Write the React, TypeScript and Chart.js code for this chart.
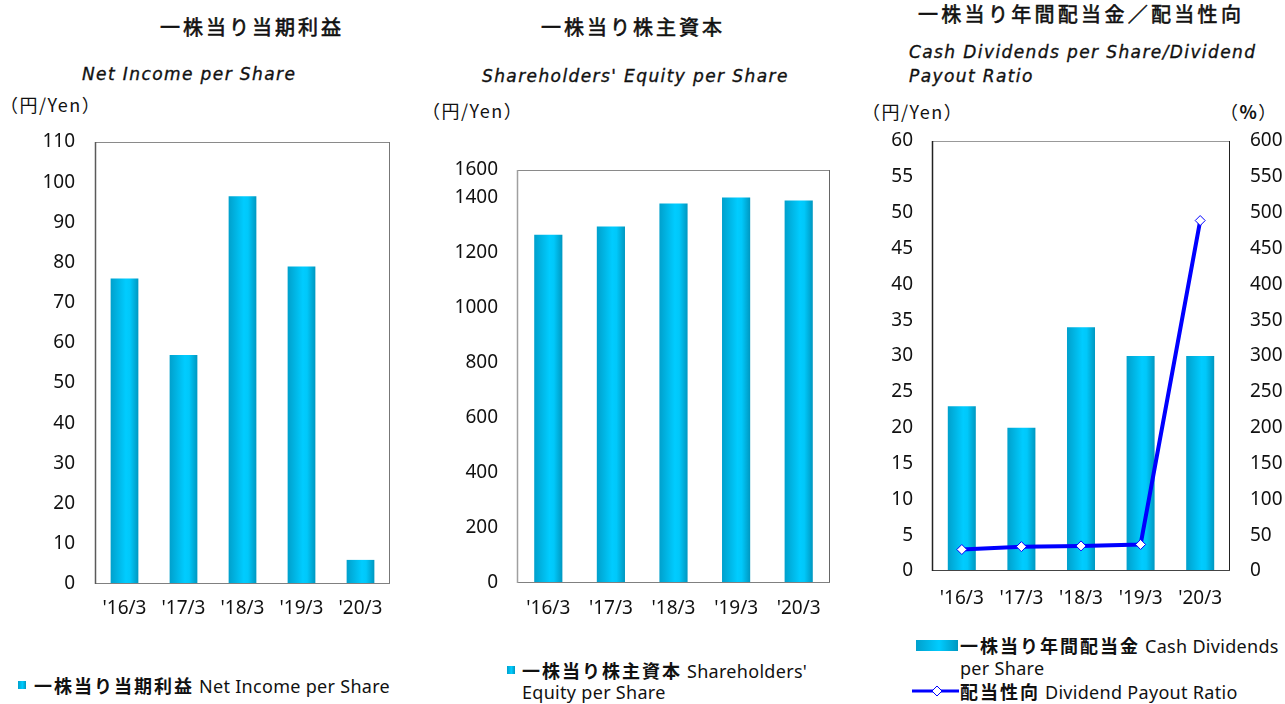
import React, { useEffect, useRef } from 'react';
import { Chart, registerables } from 'chart.js';

Chart.register(...registerables);

// ---------- data ----------
const categories = ["'16/3", "'17/3", "'18/3", "'19/3", "'20/3"];
const netIncomePerShare = [76, 57, 96.5, 79, 6];
const equityPerShare = [1265, 1295, 1378, 1400, 1389];
const dividendsPerShare = [23, 20, 34, 30, 30];
const payoutRatio = [30, 34, 35, 37, 489];

const netIncomeAxis = { min: 0, max: 110, step: 10 };
const equityTickValues = [0, 200, 400, 600, 800, 1000, 1200, 1400, 1500];
const equityTickLabels = ['0', '200', '400', '600', '800', '1000', '1200', '1400', '1600'];
const dividendAxis = { min: 0, max: 60, step: 5 };
const payoutAxis = { min: 0, max: 600, step: 50 };

// ---------- styling helpers ----------
const TICK_FONT = { family: "'Noto Sans', 'Noto Sans CJK JP', sans-serif", size: 19 };
const TEXT_FAMILY = "'Noto Sans', 'Noto Sans CJK JP', sans-serif";
const JP_FAMILY = "'Noto Sans CJK JP', 'Noto Sans', sans-serif";

const barGradientPlugin = {
  id: 'barGradient',
  beforeDatasetsDraw(chart: any) {
    const ctx = chart.ctx;
    chart.data.datasets.forEach((_ds: any, i: number) => {
      const meta = chart.getDatasetMeta(i);
      if (meta.type !== 'bar') return;
      meta.data.forEach((el: any) => {
        const w = el.width;
        const x0 = el.x - w / 2;
        const g = ctx.createLinearGradient(x0, 0, x0 + w, 0);
        g.addColorStop(0, '#00a0cc');
        g.addColorStop(0.55, '#00ccff');
        g.addColorStop(0.7, '#00c8fa');
        g.addColorStop(1, '#0097c0');
        el.options.backgroundColor = g;
      });
    });
  },
};

const frameBorderPlugin = {
  id: 'frameBorder',
  afterDatasetsDraw(chart: any, _args: any, opts: any) {
    const { left, right, top, bottom } = chart.chartArea;
    const ctx = chart.ctx;
    const seg = (x1: number, y1: number, x2: number, y2: number, c: string, w: number) => {
      ctx.save();
      ctx.strokeStyle = c;
      ctx.lineWidth = w;
      ctx.beginPath();
      ctx.moveTo(x1, y1);
      ctx.lineTo(x2, y2);
      ctx.stroke();
      ctx.restore();
    };
    seg(left, top + 0.5, right, top + 0.5, opts.top, 1);
    seg(right - 0.5, top, right - 0.5, bottom, opts.right, 1);
    seg(left, bottom - 0.5, right, bottom - 0.5, opts.bottom, 1);
    seg(left + 0.5, top, left + 0.5, bottom, opts.left, 1.5);
  },
};

function xScale(padding: number) {
  return {
    type: 'category',
    grid: { display: false, drawTicks: false },
    border: { display: false },
    ticks: { color: '#111', font: TICK_FONT, padding, maxRotation: 0, autoSkip: false },
    afterFit: (s: any) => {
      s.height = 60;
      s.paddingLeft = 0;
      s.paddingRight = 0;
    },
  };
}

function yScale(position: string, width: number, padding: number, min: number, max: number, step: number) {
  return {
    type: 'linear',
    position,
    min,
    max,
    grid: { display: false, drawTicks: false },
    border: { display: false },
    ticks: { color: '#111', font: TICK_FONT, padding, stepSize: step },
    afterFit: (s: any) => {
      s.width = width;
      s.paddingTop = 0;
      s.paddingBottom = 0;
    },
  };
}

const barColorFn = () => '#00c0f0';

function ChartCanvas({ config, left, top, width, height }: any) {
  const ref = useRef<HTMLCanvasElement | null>(null);
  useEffect(() => {
    if (!ref.current) return;
    const chart = new Chart(ref.current, config);
    return () => chart.destroy();
  }, []);
  return (
    <canvas
      ref={ref}
      width={width}
      height={height}
      style={{ position: 'absolute', left, top, width, height }}
    />
  );
}

const baseOptions = (padding: any, border: any) => ({
  animation: false,
  responsive: false,
  devicePixelRatio: 1,
  layout: { padding },
  plugins: {
    legend: { display: false },
    tooltip: { enabled: false },
    title: { display: false },
    frameBorder: border,
  },
});

const netIncomeConfig: any = {
  type: 'bar',
  data: {
    labels: categories,
    datasets: [
      {
        label: '一株当り当期利益 Net Income per Share',
        data: netIncomePerShare,
        backgroundColor: barColorFn,
        borderWidth: 0,
        barPercentage: 0.47,
        categoryPercentage: 1,
      },
    ],
  },
  options: {
    ...baseOptions({ top: 20, right: 10, left: 0, bottom: 0 }, { top: '#8a8a8a', right: '#777', bottom: '#808080', left: '#5a5a5a' }),
    scales: {
      x: xScale(13),
      y: yScale('left', 95, 20, netIncomeAxis.min, netIncomeAxis.max, netIncomeAxis.step),
    },
  },
  plugins: [barGradientPlugin, frameBorderPlugin],
};

const equityY: any = yScale('left', 97, 19, 0, 1500, 200);
equityY.afterBuildTicks = (s: any) => {
  s.ticks = equityTickValues.map((v) => ({ value: v }));
};
equityY.ticks.callback = (v: number) => {
  const i = equityTickValues.indexOf(v);
  return i >= 0 ? equityTickLabels[i] : '';
};

const equityConfig: any = {
  type: 'bar',
  data: {
    labels: categories,
    datasets: [
      {
        label: "一株当り株主資本 Shareholders' Equity per Share",
        data: equityPerShare,
        backgroundColor: barColorFn,
        borderWidth: 0,
        barPercentage: 0.45,
        categoryPercentage: 1,
      },
    ],
  },
  options: {
    ...baseOptions({ top: 20, right: 10, left: 0, bottom: 0 }, { top: '#8a8a8a', right: '#666', bottom: '#808080', left: '#a0a0a0' }),
    scales: {
      x: xScale(14),
      y: equityY,
    },
  },
  plugins: [barGradientPlugin, frameBorderPlugin],
};

const dividendConfig: any = {
  type: 'bar',
  data: {
    labels: categories,
    datasets: [
      {
        type: 'line',
        label: '配当性向 Dividend Payout Ratio',
        data: payoutRatio,
        yAxisID: 'y2',
        order: 0,
        borderColor: '#0000ff',
        borderWidth: 4,
        tension: 0,
        pointStyle: 'rectRot',
        pointRadius: 5,
        pointBackgroundColor: '#ffffff',
        pointBorderColor: '#0000ff',
        pointBorderWidth: 1,
        fill: false,
      },
      {
        type: 'bar',
        label: '一株当り年間配当金 Cash Dividends per Share',
        data: dividendsPerShare,
        yAxisID: 'y',
        order: 1,
        backgroundColor: barColorFn,
        borderWidth: 0,
        barPercentage: 0.47,
        categoryPercentage: 1,
      },
    ],
  },
  options: {
    ...baseOptions({ top: 20, right: 0, left: 0, bottom: 0 }, { top: '#999', right: '#222', bottom: '#444', left: '#222' }),
    scales: {
      x: xScale(16),
      y: yScale('left', 72, 19, dividendAxis.min, dividendAxis.max, dividendAxis.step),
      y2: yScale('right', 55, 20, payoutAxis.min, payoutAxis.max, payoutAxis.step),
    },
  },
  plugins: [barGradientPlugin, frameBorderPlugin],
};

// ---------- text helpers ----------
function T({ x, cy, size = 17, style = {}, children }: any) {
  const lh = Math.round(size * 1.3);
  return (
    <div
      style={{
        position: 'absolute',
        left: x,
        top: cy - lh / 2,
        fontSize: size,
        lineHeight: `${lh}px`,
        whiteSpace: 'nowrap',
        color: '#111',
        fontFamily: TEXT_FAMILY,
        ...style,
      }}
    >
      {children}
    </div>
  );
}

const titleStyle = {
  fontFamily: JP_FAMILY,
  fontWeight: 400,
  letterSpacing: '3px',
  color: '#111',
  WebkitTextStroke: '0.6px #111',
};
const subStyle = {
  fontFamily: "'DejaVu Sans', sans-serif",
  fontStyle: 'italic',
  fontWeight: 400,
  letterSpacing: '1.4px',
  WebkitTextStroke: '0.35px #111',
};
const unitStyle = { fontFamily: JP_FAMILY, letterSpacing: '1.5px' };
const jpLegend = { fontFamily: JP_FAMILY, fontWeight: 700, letterSpacing: '2px' };
const enLegend = { letterSpacing: '0.3px' };
const swatchGradient = 'linear-gradient(to right, #00a0cc 0%, #00ccff 55%, #0097c0 100%)';

export default function App() {
  return (
    <div
      style={{
        position: 'fixed',
        left: 0,
        top: 0,
        width: 1285,
        height: 704,
        background: '#ffffff',
        overflow: 'hidden',
      }}
    >
      {/* Chart 1 texts */}
      <T x={160} cy={27} size={20} style={titleStyle}>一株当り当期利益</T>
      <T x={82} cy={74} size={17} style={subStyle}>Net Income per Share</T>
      <T x={0} cy={104} size={18} style={unitStyle}>（円/Yen）</T>

      {/* Chart 2 texts */}
      <T x={541} cy={27} size={20} style={titleStyle}>一株当り株主資本</T>
      <T x={482} cy={76} size={17} style={subStyle}>Shareholders' Equity per Share</T>
      <T x={422} cy={110} size={18} style={unitStyle}>（円/Yen）</T>

      {/* Chart 3 texts */}
      <T x={918} cy={14} size={20} style={{ ...titleStyle, letterSpacing: '3.3px' }}>一株当り年間配当金／配当性向</T>
      <T x={909} cy={52} size={17} style={subStyle}>Cash Dividends per Share/Dividend</T>
      <T x={909} cy={76} size={17} style={subStyle}>Payout Ratio</T>
      <T x={862} cy={111} size={18} style={unitStyle}>（円/Yen）</T>
      <T x={1220} cy={111} size={18} style={unitStyle}>（<b>%</b>）</T>

      <ChartCanvas config={netIncomeConfig} left={0} top={122} width={400} height={522} />
      <ChartCanvas config={equityConfig} left={420} top={150} width={420} height={493} />
      <ChartCanvas config={dividendConfig} left={860} top={121} width={425} height={510} />

      {/* Legend 1 */}
      <div style={{ position: 'absolute', left: 18, top: 681, width: 8, height: 8, background: swatchGradient }} />
      <T x={34} cy={685} size={18}>
        <span style={jpLegend}>一株当り当期利益</span><span style={enLegend}> Net Income per Share</span>
      </T>

      {/* Legend 2 */}
      <div style={{ position: 'absolute', left: 507, top: 666, width: 8, height: 8, background: swatchGradient }} />
      <T x={522} cy={670} size={18}>
        <span style={jpLegend}>一株当り株主資本</span><span style={enLegend}> Shareholders'</span>
      </T>
      <T x={522} cy={692} size={18} style={enLegend}>Equity per Share</T>

      {/* Legend 3 */}
      <div style={{ position: 'absolute', left: 916, top: 640, width: 42, height: 11, background: swatchGradient }} />
      <T x={960} cy={645} size={18}>
        <span style={jpLegend}>一株当り年間配当金</span><span style={enLegend}> Cash Dividends</span>
      </T>
      <T x={960} cy={668} size={18} style={enLegend}>per Share</T>
      <svg style={{ position: 'absolute', left: 912, top: 684 }} width={48} height={14}>
        <line x1={0} y1={7} x2={47} y2={7} stroke="#0000ff" strokeWidth={3} />
        <polygon points="25,2 30,7 25,12 20,7" fill="#ffffff" stroke="#0000ff" strokeWidth={1} />
      </svg>
      <T x={960} cy={691} size={18}>
        <span style={jpLegend}>配当性向</span><span style={enLegend}> Dividend Payout Ratio</span>
      </T>
    </div>
  );
}
